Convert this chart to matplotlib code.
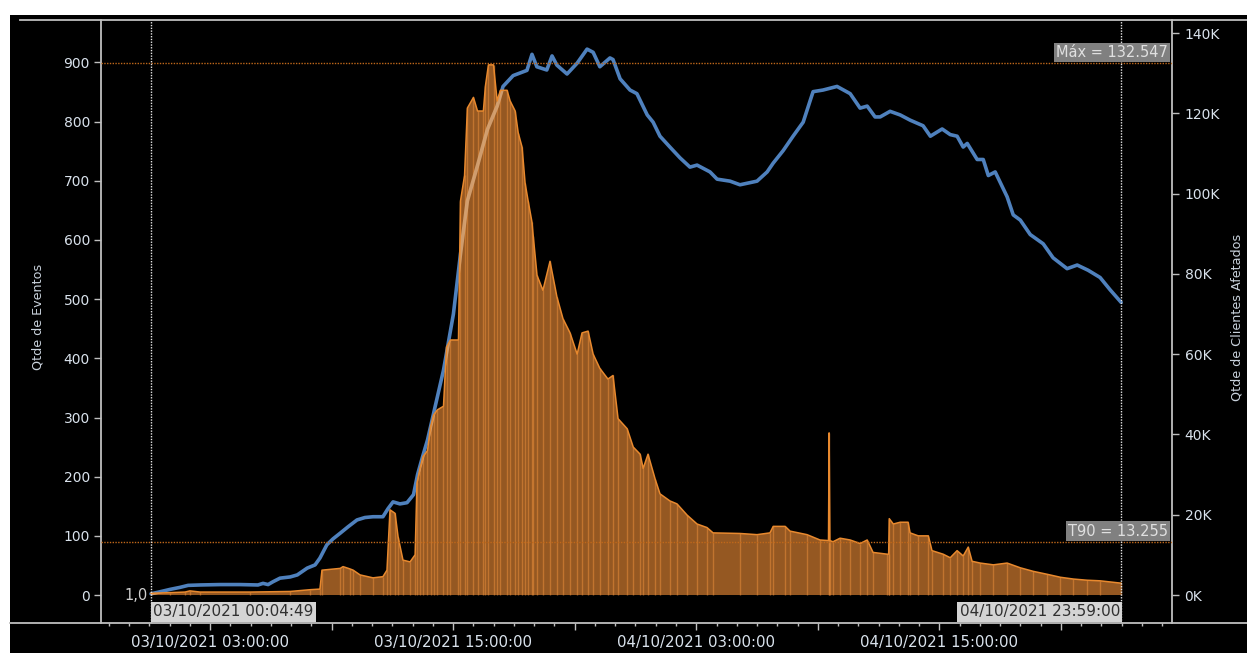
import matplotlib
matplotlib.use('Agg')
import matplotlib.pyplot as plt
from matplotlib.patches import Rectangle
from matplotlib.lines import Line2D
from matplotlib.ticker import FixedLocator, MultipleLocator, FuncFormatter
import matplotlib.transforms as mtransforms
import datetime as dt

# ---------------- data (hours since 03/10/2021 00:00) ----------------
clients_t = [0.08, 0.52, 1.02, 1.51, 1.91, 2.50, 3.49, 4.47, 5.36, 5.61, 5.86, 6.10, 6.45, 6.95,
             7.30, 7.79, 8.18, 8.42, 8.76, 9.07, 9.42, 9.81, 10.25, 10.64, 11.04, 11.53, 11.78,
             12.03, 12.37, 12.72, 13.04, 13.24, 13.49, 13.73, 14.02, 14.52, 15.01, 15.36, 15.70,
             16.20, 16.69, 17.17, 17.46, 17.96, 18.64, 18.89, 19.13, 19.62, 19.88, 20.12, 20.62,
             21.12, 21.61, 21.91, 22.24, 22.74, 22.89, 23.24, 23.73, 24.07, 24.58, 24.87, 25.21,
             25.70, 26.20, 26.69, 27.04, 27.68, 28.03, 28.67, 29.16, 30.00, 30.50, 30.80, 31.29,
             31.78, 32.28, 32.62, 32.77, 33.26, 33.95, 34.60, 35.09, 35.44, 35.83, 36.08, 36.57,
             37.07, 37.56, 38.20, 38.56, 39.14, 39.54, 39.88, 40.18, 40.38, 40.87, 41.17, 41.42,
             41.76, 42.35, 42.65, 43.00, 43.49, 44.13, 44.62, 45.31, 45.81, 46.35, 46.94, 47.44,
             47.98]
clients_k = [0.3, 0.8, 1.4, 1.9, 2.4, 2.5, 2.6, 2.6, 2.5, 2.9, 2.6, 3.3, 4.2, 4.5,
             5.0, 6.7, 7.5, 9.2, 12.5, 14.0, 15.4, 17.0, 18.7, 19.3, 19.5, 19.5, 21.5,
             23.2, 22.7, 23.0, 25.0, 30.0, 34.5, 38.6, 45.0, 56.0, 70.0, 85.0, 98.2,
             107.0, 116.0, 121.8, 126.7, 129.4, 130.7, 134.7, 131.6, 130.8, 134.3, 132.0, 129.8,
             132.5, 136.0, 135.2, 131.6, 133.8, 133.4, 128.6, 125.8, 124.9, 119.6, 117.8, 114.3,
             111.6, 108.9, 106.6, 107.1, 105.4, 103.6, 103.1, 102.2, 103.1, 105.4, 107.6, 110.7,
             114.3, 117.8, 123.1, 125.4, 125.8, 126.7, 124.9, 121.3, 121.8, 119.1, 119.1, 120.5,
             119.6, 118.3, 116.9, 114.3, 116.1, 114.7, 114.3, 111.6, 112.5, 108.5, 108.5, 104.5,
             105.4, 99.2, 94.7, 93.4, 89.8, 87.5, 84.0, 81.3, 82.2, 80.9, 79.1, 76.0,
             72.9]

events_t = [0.08, 1.02, 1.76, 2.00, 2.50, 4.97, 6.95, 7.94, 8.42, 8.52, 9.42, 9.56, 9.91, 10.06,
            10.40, 11.04, 11.53, 11.73, 11.88, 12.13, 12.28, 12.52, 12.87, 13.12, 13.21, 13.36,
            13.51, 13.73, 13.88, 14.03, 14.22, 14.52, 14.67, 14.86, 15.26, 15.36, 15.56, 15.70,
            16.00, 16.20, 16.49, 16.59, 16.74, 16.99, 17.17, 17.33, 17.66, 17.81, 18.06, 18.21,
            18.40, 18.55, 18.70, 18.89, 18.95, 19.14, 19.43, 19.78, 20.12, 20.42, 20.77, 21.12,
            21.36, 21.66, 21.91, 22.24, 22.64, 22.89, 23.14, 23.59, 23.89, 24.23, 24.38, 24.62,
            24.97, 25.21, 25.70, 26.05, 26.55, 27.04, 27.53, 27.83, 29.16, 30.00, 30.64, 30.80,
            31.39, 31.63, 32.47, 33.11, 33.53, 33.56, 33.60, 33.75, 34.10, 34.60, 35.09, 35.44,
            35.73, 36.43, 36.50, 36.53, 36.73, 37.07, 37.46, 37.56, 37.96, 38.46, 38.64, 39.19,
            39.54, 39.88, 40.18, 40.43, 40.62, 41.02, 41.67, 42.35, 43.00, 43.64, 44.33, 44.98,
            45.62, 46.30, 46.94, 47.98]
events_v = [3, 4, 5, 7, 5, 5, 6, 9, 10, 42, 45, 48, 44, 42,
            34, 29, 31, 42, 144, 138, 98, 59, 56, 68, 189, 214,
            234, 244, 284, 304, 313, 319, 419, 431, 431, 666, 709, 823,
            841, 818, 818, 860, 896, 896, 835, 853, 853, 835, 818, 781,
            757, 696, 666, 630, 607, 540, 515, 564, 504, 467, 443, 407,
            443, 446, 407, 383, 365, 371, 298, 281, 250, 238, 214, 238,
            196, 171, 159, 154, 135, 120, 114, 105, 104, 102, 105, 116,
            116, 108, 102, 93, 92, 274, 92, 90, 96, 93, 87, 93,
            72, 69, 69, 129, 120, 123, 123, 105, 100, 100, 75, 69,
            63, 75, 66, 81, 57, 54, 51, 54, 46, 40, 35, 30,
            27, 25, 24, 20]

max_value = 132547
t90_value = 13255
start_label = "03/10/2021 00:04:49"
end_label = "04/10/2021 23:59:00"
start_t = 0.08
end_t = 47.98
left_ticks = [0, 100, 200, 300, 400, 500, 600, 700, 800, 900]
right_ticks = [0, 20000, 40000, 60000, 80000, 100000, 120000, 140000]

# ---------------- figure ----------------
W, H = 1247, 653
fig = plt.figure(figsize=(W / 100, H / 100), dpi=100, facecolor='white')
fig.patches.append(Rectangle((10 / W, 0), 1 - 10 / W, 1 - 15 / H, transform=fig.transFigure,
                             facecolor='black', edgecolor='none', zorder=-10))
fig.lines.append(Line2D([20 / W, 1], [1 - 20 / H] * 2, transform=fig.transFigure,
                        color='#bfbfbf', lw=1.3))
fig.lines.append(Line2D([10 / W, 1], [1 - 623 / H] * 2, transform=fig.transFigure,
                        color='#bfbfbf', lw=1.3))

ax = fig.add_axes([101 / W, 1 - 623 / H, (1172 - 101) / W, (623 - 20) / H])
ax2 = ax.twinx()
ax.set_zorder(2)
ax2.set_zorder(1)
ax.patch.set_visible(False)
ax2.patch.set_visible(False)

txtc = '#d9e2ec'
spc = '#bfbfbf'

# limits
ax.set_xlim(-2.39, 50.49)
ax.set_ylim(-47.3, 971.8)
ax2.set_ylim(-6975, 143250)

# blue line (clients)
clients_abs = [k * 1000 for k in clients_k]
ax2.plot(clients_t, clients_abs, color='#4f81bd', lw=2.6, solid_joinstyle='round',
         solid_capstyle='round', zorder=3)

# orange bars (events)
area = ax.fill_between(events_t, events_v, 0, facecolor='#9e5e25', edgecolor='none',
                       alpha=0.95, zorder=3)
ax.vlines(events_t, 0, events_v, color='#e08838', lw=1.0, alpha=0.6, zorder=3)
ax.plot(events_t, events_v, color='#e8892e', lw=1.1, zorder=4)

# the blue line seen through the bars (light tint), clipped to the bar area
btr = mtransforms.blended_transform_factory(ax.transData, ax2.transData)
ghost = Line2D(clients_t, clients_abs, transform=btr, color='#d9a879', lw=2.6, alpha=0.85,
               solid_joinstyle='round', zorder=3.5)
ax.add_line(ghost)
ghost.set_clip_path(area.get_paths()[0], ax.transData)

# reference lines (dotted orange) on top
htr = mtransforms.blended_transform_factory(ax.transAxes, ax2.transData)
for v in (max_value, t90_value):
    ax.add_line(Line2D([0, 1], [v, v], transform=htr, color='#c0681a', lw=1.0,
                       ls=(0, (1, 1)), zorder=6))
for tv in (start_t, end_t):
    ax.axvline(tv, color='#e6e6e6', lw=1.0, ls=(0, (1, 1)), zorder=6)

# ticks
base = dt.datetime(2021, 10, 3, 0, 0, 0)
labelled = {3, 15, 27, 39}


def fmt(t, pos):
    if int(round(t)) in labelled:
        return (base + dt.timedelta(hours=float(t))).strftime('%d/%m/%Y %H:%M:%S')
    return ''


ax.xaxis.set_major_locator(FixedLocator([-3, 3, 9, 15, 21, 27, 33, 39, 45]))
ax.xaxis.set_minor_locator(MultipleLocator(1))
ax.xaxis.set_major_formatter(FuncFormatter(fmt))
ax.tick_params(axis='x', which='major', length=5, width=1, color=spc, labelcolor=txtc,
               labelsize=10.8, pad=3.5, direction='out')
ax.tick_params(axis='x', which='minor', length=2, width=1, color=spc, direction='out')

ax.set_yticks(left_ticks)
ax.tick_params(axis='y', length=5, width=1, color=spc, labelcolor=txtc, labelsize=10, pad=3)
ax2.set_yticks(right_ticks)
ax2.set_yticklabels([f"{int(v / 1000)}K" for v in right_ticks])
ax2.tick_params(axis='y', length=5, width=1, color=spc, labelcolor=txtc, labelsize=10, pad=4)

for a in (ax, ax2):
    for s in ('top', 'bottom'):
        a.spines[s].set_visible(False)
    a.spines['left'].set_color(spc)
    a.spines['right'].set_color(spc)
    a.spines['left'].set_linewidth(1.3)
    a.spines['right'].set_linewidth(1.3)
ax2.spines['left'].set_visible(False)
ax.spines['right'].set_visible(False)

# axis titles
fig.text(38 / W, 1 - 317 / H, 'Qtde de Eventos', rotation=90, ha='center', va='center',
         color='#c9d2dc', fontsize=9.2)
fig.text(1237 / W, 1 - 317 / H, 'Qtde de Clientes Afetados', rotation=90, ha='center',
         va='center', color='#c9d2dc', fontsize=9.2)

# annotation boxes
ax.text(0.9965, max_value + 800, 'Máx = 132.547', transform=htr, ha='right', va='bottom',
        color='#e0e0e0', fontsize=10.5, zorder=7,
        bbox=dict(boxstyle='square,pad=0.15', facecolor='#808080', edgecolor='none'))
ax.text(0.9965, t90_value + 800, 'T90 = 13.255', transform=htr, ha='right', va='bottom',
        color='#e0e0e0', fontsize=10.5, zorder=7,
        bbox=dict(boxstyle='square,pad=0.15', facecolor='#808080', edgecolor='none'))

ax.text(start_t + 0.1, -16, start_label, ha='left', va='top', color='#303030', fontsize=11,
        zorder=7, bbox=dict(boxstyle='square,pad=0.15', facecolor='#d4d4d4', edgecolor='none'))
ax.text(end_t - 0.05, -16, end_label, ha='right', va='top', color='#303030', fontsize=11,
        zorder=7, bbox=dict(boxstyle='square,pad=0.15', facecolor='#d4d4d4', edgecolor='none'))
ax.text(start_t - 0.15, 0, '1,0', ha='right', va='center', color='#cfcfcf', fontsize=10.5,
        zorder=7)

fig.savefig('out.png', dpi=100, facecolor=fig.get_facecolor())
